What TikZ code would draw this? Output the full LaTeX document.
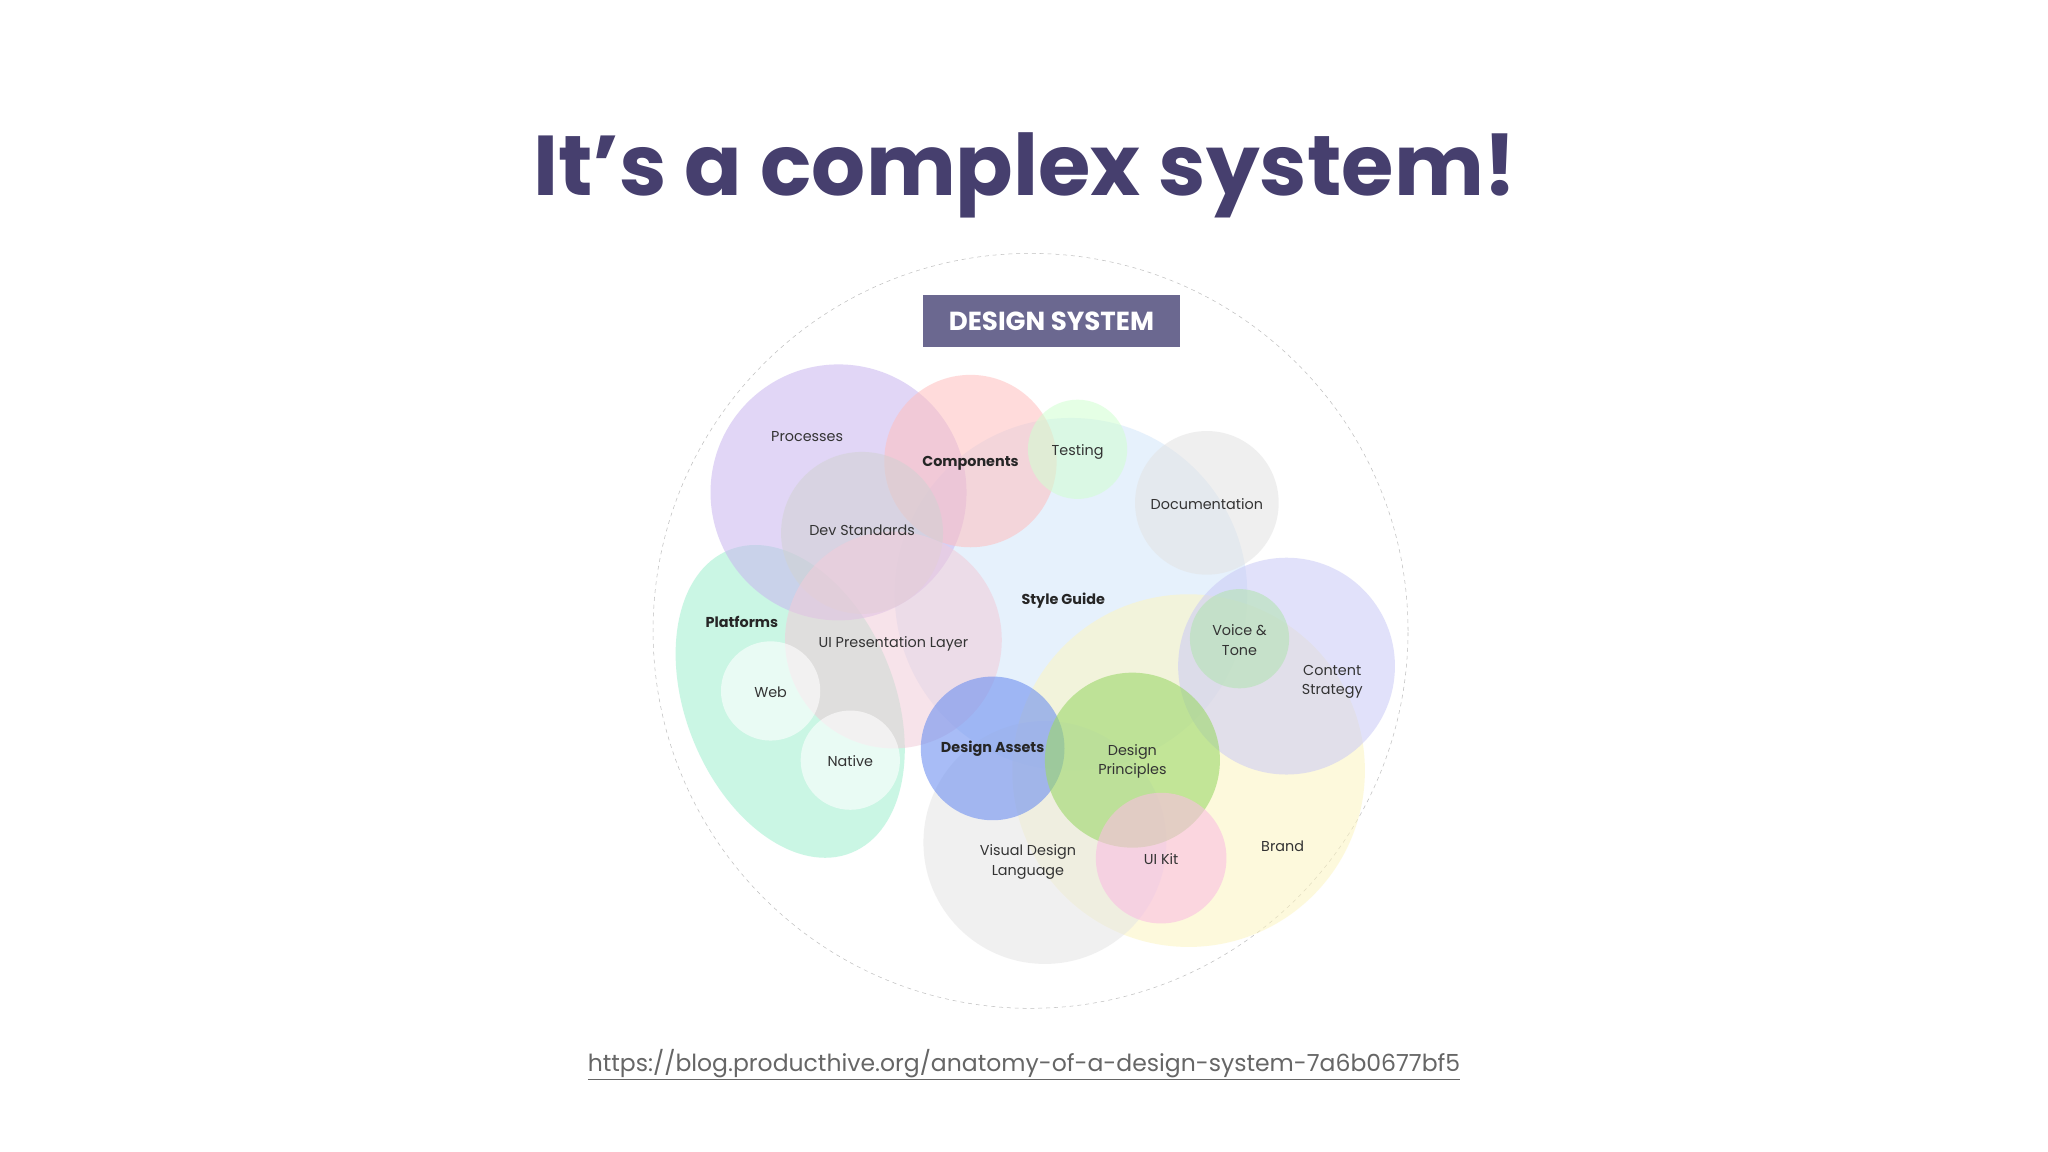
\documentclass[tikz,border=0pt]{standalone}
\usepackage{fontspec}
\setmainfont{Poppins}
\usetikzlibrary{shapes.geometric}
\definecolor{titlec}{HTML}{463F6E}
\definecolor{boxc}{HTML}{6B6890}
\definecolor{cproc}{HTML}{C9B6F0}
\definecolor{csg}{HTML}{D3E6FA}
\definecolor{ccs}{HTML}{CACAF6}
\definecolor{cplat}{HTML}{9FF0CF}
\definecolor{cda}{HTML}{6E90F0}
\definecolor{cdp}{HTML}{9CD86A}
\definecolor{cbrand}{HTML}{FDF5C0}
\tikzset{
  blob/.style={circle,minimum size=#1,inner sep=0pt,fill opacity=0.55,draw=none},
  lbl/.style={font=\fontsize{11}{15}\selectfont,text=black!80,align=center},
  blbl/.style={font=\fontsize{11}{15}\selectfont\bfseries,text=black!85,align=center}
}
\begin{document}
\begin{tikzpicture}[x=1pt,y=-1pt]
\useasboundingbox[fill=white] (0,0) rectangle (1568,882);
\node[font=\fontsize{65}{75}\selectfont\bfseries,text=titlec] (title) at (785,134) {It’s a complex system!};
\node[draw=black!25,dashed,circle,minimum size=578,inner sep=0pt] (outer) at (789,483) {};
% circles
\node[blob=270,fill=csg] (sg) at (820,455) {};
\node[blob=270,fill=cbrand] (brand) at (910,590) {};
\node[blob=166,fill=ccs] (cs) at (985,510) {};
\node[ellipse,minimum width=160,minimum height=250,rotate=22,fill=cplat,fill opacity=0.55] (plat) at (605,537) {};
\node[blob=196,fill=cproc] (proc) at (642,377) {};
\node[blob=132,fill=red!25] (comp) at (743,353) {};
\node[blob=76,fill=green!18] (test) at (825,344) {};
\node[blob=110,fill=gray!22] (doc) at (924,385) {};
\node[blob=124,fill=gray!35] (dev) at (660,408) {};
\node[blob=166,fill=purple!20] (uip) at (684,490) {};
\node[blob=76,fill=white,fill opacity=0.6] (web) at (590,529) {};
\node[blob=76,fill=white,fill opacity=0.6] (nat) at (651,582) {};
\node[blob=76,fill=gray!55!green!40,fill opacity=0.6] (vt) at (949,489) {};
\node[blob=186,fill=gray!20] (vdl) at (800,645) {};
\node[blob=110,fill=cda,fill opacity=0.6] (da) at (760,573) {};
\node[blob=134,fill=cdp,fill opacity=0.6] (dp) at (867,582) {};
\node[blob=100,fill=magenta!25,fill opacity=0.6] (uik) at (889,657) {};
% box
\node[fill=boxc,text=white,font=\fontsize{20}{24}\selectfont\bfseries,minimum width=197,minimum height=40] (ds) at (805,246) {DESIGN SYSTEM};
% labels
\node[lbl] at (618,334) {Processes};
\node[blbl] at (743,355) {Components};
\node[lbl] at (825,346) {Testing};
\node[lbl] at (924,386) {Documentation};
\node[lbl] at (660,406) {Dev Standards};
\node[blbl] at (814,460) {Style Guide};
\node[blbl] at (568,476) {Platforms};
\node[lbl] at (684,493) {UI Presentation Layer};
\node[lbl] at (590,530) {Web};
\node[lbl] at (651,583) {Native};
\node[lbl] at (949,490) {Voice \&\\Tone};
\node[lbl] at (1020,522) {Content\\Strategy};
\node[blbl] at (760,573) {Design Assets};
\node[lbl] at (867,583) {Design\\Principles};
\node[lbl] at (787,660) {Visual Design\\Language};
\node[lbl] at (889,658) {UI Kit};
\node[lbl] at (982,648) {Brand};
\node[font=\fontsize{18}{22}\selectfont,text=black!60] (url) at (784,815) {\underline{https://blog.producthive.org/anatomy-of-a-design-system-7a6b0677bf5}};
\end{tikzpicture}
\end{document}
